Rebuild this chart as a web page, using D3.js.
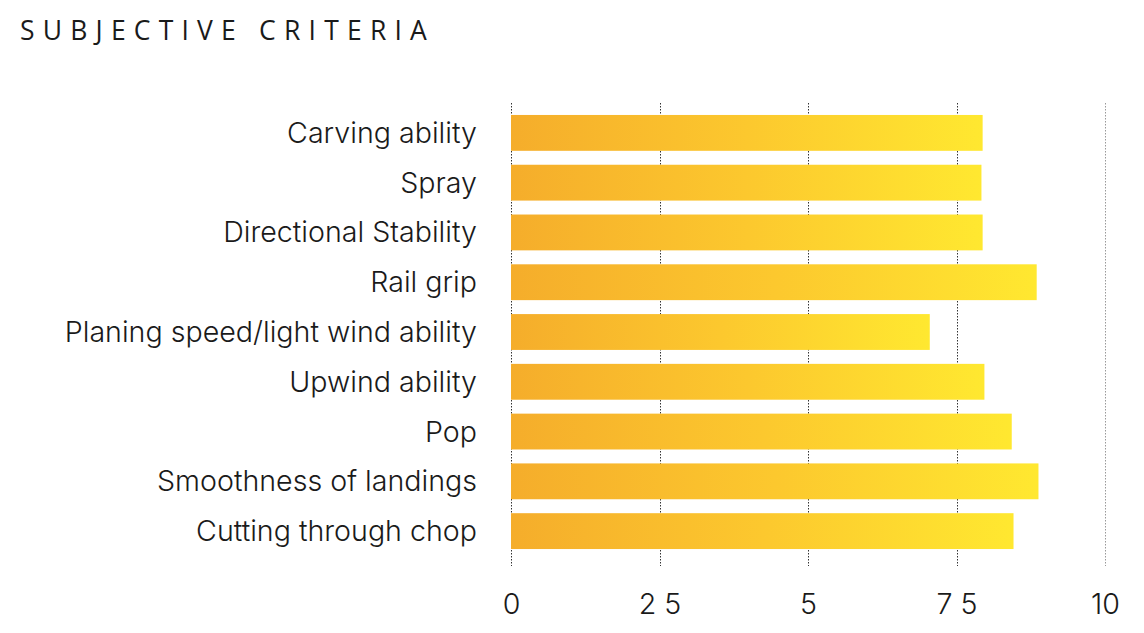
<!DOCTYPE html>
<html><head><meta charset="utf-8">
<script src="https://cdn.jsdelivr.net/npm/d3@7"></script>
<style>
body{margin:0;background:#fff;}
svg{display:block;}
</style></head>
<body>
<svg id="chart" width="1144" height="633"></svg>
<script>
const categories = ["Carving ability","Spray","Directional Stability","Rail grip","Planing speed/light wind ability","Upwind ability","Pop","Smoothness of landings","Cutting through chop"];
const values = [7.94, 7.92, 7.94, 8.85, 7.05, 7.97, 8.43, 8.88, 8.46];
const tickValues = [0, 2.5, 5, 7.5, 10];
const tickLabels = ["0", "2 5", "5", "7 5", "10"];

const svg = d3.select("#chart");
const font = "Inter, 'Noto Sans', sans-serif";

svg.append("text").attr("x", 20).attr("y", 40)
  .attr("font-family", "'Open Sans', sans-serif").attr("font-size", 26.5)
  .attr("letter-spacing", 8.2).attr("fill", "#1a1a1a")
  .text("SUBJECTIVE CRITERIA");

const x = d3.scaleLinear().domain([0, 10]).range([511, 1105]);
const y = d3.scaleBand().domain(categories).range([108, 556]).paddingInner(0.28).paddingOuter(0.14);

const defs = svg.append("defs");
const grad = defs.append("linearGradient").attr("id", "barGrad")
  .attr("x1", "0%").attr("x2", "100%").attr("y1", "0%").attr("y2", "0%");
grad.append("stop").attr("offset", "0%").attr("stop-color", "#F5AD2B");
grad.append("stop").attr("offset", "50%").attr("stop-color", "#FCC82E");
grad.append("stop").attr("offset", "100%").attr("stop-color", "#FFE830");

// gridlines
svg.append("g").selectAll("line").data(tickValues).join("line")
  .attr("x1", d => Math.round(x(d)) + 0.5).attr("x2", d => Math.round(x(d)) + 0.5)
  .attr("y1", 103).attr("y2", 566)
  .attr("stroke", (d, i) => i === tickValues.length - 1 ? "#999" : "#333")
  .attr("stroke-width", 1).attr("stroke-dasharray", "1.5,1.5");

// bars
svg.append("g").selectAll("rect").data(categories).join("rect")
  .attr("x", x(0)).attr("y", d => y(d))
  .attr("width", (d, i) => x(values[i]) - x(0))
  .attr("height", y.bandwidth())
  .attr("fill", "url(#barGrad)");

// category labels
svg.append("g").selectAll("text").data(categories).join("text")
  .attr("x", 477).attr("y", d => y(d) + y.bandwidth() / 2)
  .attr("dy", "0.35em").attr("text-anchor", "end")
  .attr("font-family", font).attr("font-weight", 300).attr("font-size", 28.6)
  .attr("fill", "#1a1a1a").text(d => d);

// x axis labels
const axis = d3.axisBottom(x).tickValues(tickValues).tickFormat((d, i) => tickLabels[i]).tickSize(0).tickPadding(0);
const ag = svg.append("g").attr("transform", "translate(0,594)").call(axis);
ag.select(".domain").remove();
ag.selectAll("text").attr("font-family", font).attr("font-weight", 300)
  .attr("font-size", 28.6).attr("fill", "#1a1a1a").attr("dy", "0.71em");
</script>
</body></html>
